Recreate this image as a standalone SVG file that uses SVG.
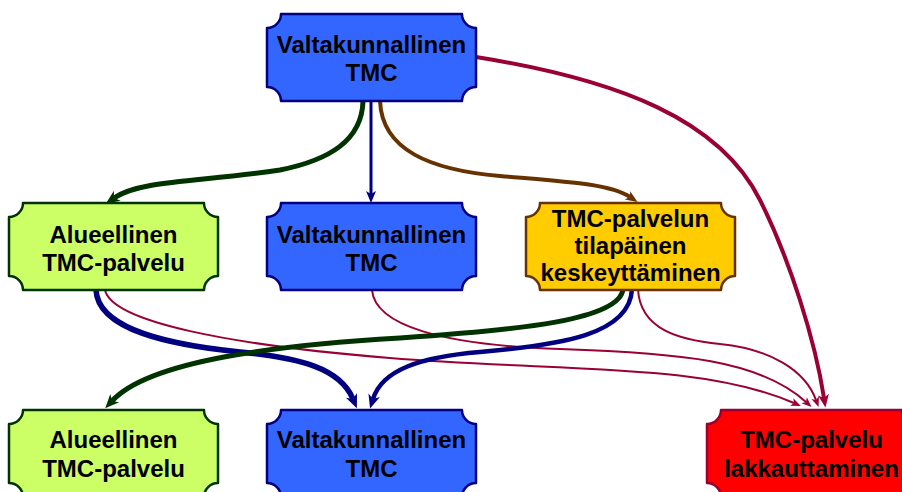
<svg xmlns="http://www.w3.org/2000/svg" xmlns:xlink="http://www.w3.org/1999/xlink" width="902" height="492" viewBox="0 0 902 492">
  <style>
    .box { stroke-width: 2.5; stroke-linejoin: round; }
    .blue { fill: #3366FF; stroke: #000080; }
    .lime { fill: #CCFF66; stroke: #003300; }
    .amber { fill: #FFCC00; stroke: #663300; }
    .red { fill: #FF0000; stroke: #990033; }
    .label { font-family: "Liberation Sans", Arial, sans-serif; font-weight: bold; font-size: 24px; fill: #000000; text-anchor: middle; }
    .edge { fill: none; stroke-linecap: butt; }
    .green { stroke: #003300; stroke-width: 5; marker-end: url(#head-green); }
    .navy { stroke: #000080; }
    .navy-thin { stroke-width: 3; marker-end: url(#head-navy-small); }
    .navy-thick { stroke-width: 5.5; marker-end: url(#head-navy); }
    .brown { stroke: #663300; stroke-width: 4; marker-end: url(#head-brown); }
    .crimson { stroke: #990033; }
    .crimson-thick { stroke-width: 4; marker-end: url(#head-crimson); }
    .crimson-thin { stroke-width: 2; marker-end: url(#head-crimson-small); }
  </style>
  <defs>
    <!-- plaque outline with concave corners, 209 x 87 -->
    <path id="plaque" d="M14,0 H195 A14,14 0 0 0 209,14 V73 A14,14 0 0 0 195,87 H14 A14,14 0 0 0 0,73 V14 A14,14 0 0 0 14,0 Z"/>
    <marker id="head-green" markerUnits="userSpaceOnUse" markerWidth="16" markerHeight="14" refX="4" refY="6" orient="auto" overflow="visible">
      <path d="M0,0 L14,6 L0,12 L4,6 Z" fill="#003300"/>
    </marker>
    <marker id="head-navy" markerUnits="userSpaceOnUse" markerWidth="16" markerHeight="14" refX="4" refY="6" orient="auto" overflow="visible">
      <path d="M0,0 L14,6 L0,12 L4,6 Z" fill="#000080"/>
    </marker>
    <marker id="head-navy-small" markerUnits="userSpaceOnUse" markerWidth="14" markerHeight="12" refX="3" refY="5" orient="auto" overflow="visible">
      <path d="M0,0 L12,5 L0,10 L3,5 Z" fill="#000080"/>
    </marker>
    <marker id="head-brown" markerUnits="userSpaceOnUse" markerWidth="14" markerHeight="12" refX="3" refY="5" orient="auto" overflow="visible">
      <path d="M0,0 L12,5 L0,10 L3,5 Z" fill="#663300"/>
    </marker>
    <marker id="head-crimson" markerUnits="userSpaceOnUse" markerWidth="15" markerHeight="13" refX="3.5" refY="5.5" orient="auto" overflow="visible">
      <path d="M0,0 L13,5.5 L0,11 L3.5,5.5 Z" fill="#990033"/>
    </marker>
    <marker id="head-crimson-small" markerUnits="userSpaceOnUse" markerWidth="12" markerHeight="10" refX="2.5" refY="4" orient="auto" overflow="visible">
      <path d="M0,0 L10,4 L0,8 L2.5,4 Z" fill="#990033"/>
    </marker>
  </defs>

  <rect x="0" y="0" width="902" height="492" fill="#FFFFFF"/>

  <g id="connectors">
    <!-- from the national TMC at the top -->
    <path class="edge green" d="M363,101 C362,140 330,160 280,170 C200,182 140,180 114,198"/>
    <path class="edge navy navy-thin" d="M371,101 V194"/>
    <path class="edge brown" d="M380,101 C382,150 430,170 500,176 C570,182 610,184 630,197"/>
    <path class="edge crimson crimson-thick" d="M476,57 C620,80 720,120 760,200 C790,260 815,340 824,398"/>
    <!-- from the regional service -->
    <path class="edge navy navy-thick" d="M96,290 C98,330 170,345 240,352 C300,358 340,368 353,399"/>
    <path class="edge crimson crimson-thin" d="M105,290 C112,322 230,345 390,358 C560,372 700,362 794,403"/>
    <!-- from the middle national TMC -->
    <path class="edge crimson crimson-thin" d="M372,290 C375,325 440,345 560,349 C680,353 760,360 806,402"/>
    <!-- from the temporary suspension -->
    <path class="edge crimson crimson-thin" d="M638,289 C640,330 680,340 720,344 C770,349 805,370 816,400"/>
    <path class="edge green" d="M623,289 C620,320 520,330 400,338 C280,345 150,360 112,401"/>
    <path class="edge navy navy-thick" style="stroke-width:4.5" d="M632,289 C630,335 560,345 480,352 C420,357 382,370 373,399"/>
  </g>

  <g id="top-national">
    <use xlink:href="#plaque" class="box blue" x="267" y="14"/>
    <text class="label" x="371.5" y="53">Valtakunnallinen</text>
    <text class="label" x="371.5" y="81">TMC</text>
  </g>

  <g id="mid-regional">
    <use xlink:href="#plaque" class="box lime" x="9" y="203"/>
    <text class="label" x="113.5" y="243">Alueellinen</text>
    <text class="label" x="113.5" y="271">TMC-palvelu</text>
  </g>

  <g id="mid-national">
    <use xlink:href="#plaque" class="box blue" x="267" y="203"/>
    <text class="label" x="371.5" y="243">Valtakunnallinen</text>
    <text class="label" x="371.5" y="271">TMC</text>
  </g>

  <g id="mid-suspension">
    <use xlink:href="#plaque" class="box amber" x="526" y="203"/>
    <text class="label" x="630.5" y="227">TMC-palvelun</text>
    <text class="label" x="630.5" y="254">tilapäinen</text>
    <text class="label" x="630.5" y="281">keskeyttäminen</text>
  </g>

  <g id="bottom-regional">
    <use xlink:href="#plaque" class="box lime" x="9" y="410"/>
    <text class="label" x="113.5" y="448">Alueellinen</text>
    <text class="label" x="113.5" y="477">TMC-palvelu</text>
  </g>

  <g id="bottom-national">
    <use xlink:href="#plaque" class="box blue" x="267" y="410"/>
    <text class="label" x="371.5" y="448">Valtakunnallinen</text>
    <text class="label" x="371.5" y="477">TMC</text>
  </g>

  <g id="bottom-termination">
    <use xlink:href="#plaque" class="box red" x="707" y="410"/>
    <text class="label" x="811.5" y="448">TMC-palvelu</text>
    <text class="label" x="811.5" y="477">lakkauttaminen</text>
  </g>
</svg>
